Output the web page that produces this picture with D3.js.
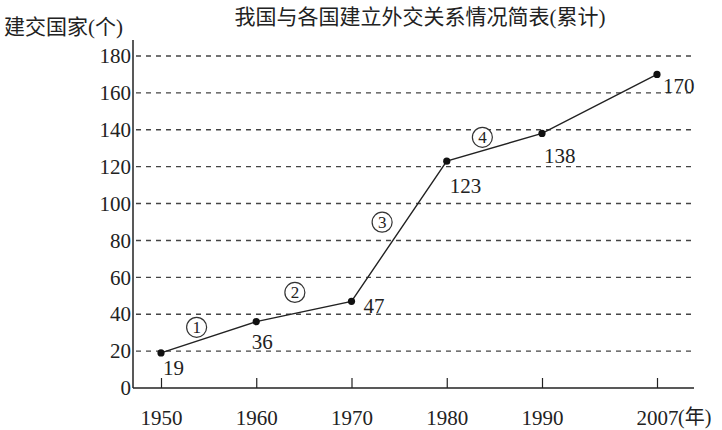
<!DOCTYPE html>
<html>
<head>
<meta charset="utf-8">
<script src="https://cdn.jsdelivr.net/npm/d3@7"></script>
<style>
  body { margin: 0; background: #fff; }
  text { font-family: "Liberation Serif", "Times New Roman", Times, "DejaVu Serif", "Noto Sans CJK SC", serif; fill: #222; }
</style>
</head>
<body>
<div id="chart"></div>
<script>
// data
const years = [1950, 1960, 1970, 1980, 1990, 2007];
const counts = [19, 36, 47, 123, 138, 170];
const yTicks = [0, 20, 40, 60, 80, 100, 120, 140, 160, 180];
const stages = ['1', '2', '3', '4'];
const titleText = '我国与各国建立外交关系情况简表(累计)';
const yTitle = '建交国家(个)';
const xUnit = '(年)';

const width = 722;
const height = 430;

const svg = d3.select('#chart')
    .append('svg')
    .attr('width', width)
    .attr('height', height);

// year axis is not evenly spaced in the original (2007 is squeezed in)
const x = d3.scaleLinear()
    .domain([1950, 1990, 2007])
    .range([161, 542, 657]);

const y = d3.scaleLinear()
    .domain([0, 180])
    .range([388, 56]);

const axisX0 = 133;
const axisRight = 694;

// dashed grid lines
svg.append('g')
    .selectAll('line')
    .data(yTicks.filter(d => d > 0))
    .enter()
    .append('line')
    .attr('x1', axisX0 + 3)
    .attr('x2', axisRight)
    .attr('y1', d => y(d))
    .attr('y2', d => y(d))
    .attr('stroke', '#444')
    .attr('stroke-width', 1.4)
    .attr('stroke-dasharray', '5,5');

// y axis
const yAxis = svg.append('g')
    .attr('transform', `translate(${axisX0},0)`)
    .call(d3.axisLeft(y).tickValues(yTicks).tickSize(0).tickPadding(2));
yAxis.select('.domain').remove();
yAxis.selectAll('text')
    .attr('font-size', 21)
    .attr('fill', '#222');

svg.append('line')
    .attr('x1', axisX0).attr('x2', axisX0)
    .attr('y1', 40).attr('y2', y(0))
    .attr('stroke', '#222')
    .attr('stroke-width', 1.5);

// x axis
const xAxis = svg.append('g')
    .attr('transform', `translate(0,${y(0)})`)
    .call(d3.axisBottom(x).tickValues(years).tickFormat(d3.format('d')).tickSize(-10).tickPadding(22));
xAxis.select('.domain').remove();
xAxis.selectAll('.tick line').attr('stroke', '#222').attr('stroke-width', 1.2);
xAxis.selectAll('text')
    .attr('font-size', 21)
    .attr('fill', '#222');

svg.append('line')
    .attr('x1', axisX0).attr('x2', axisRight)
    .attr('y1', y(0)).attr('y2', y(0))
    .attr('stroke', '#222')
    .attr('stroke-width', 1.5);

// the line
const points = years.map((yr, i) => ({ year: yr, value: counts[i] }));

const lineGen = d3.line()
    .x(d => x(d.year))
    .y(d => y(d.value));

svg.append('path')
    .datum(points)
    .attr('d', lineGen)
    .attr('fill', 'none')
    .attr('stroke', '#222')
    .attr('stroke-width', 1.4);

svg.selectAll('.dot')
    .data(points)
    .enter()
    .append('circle')
    .attr('class', 'dot')
    .attr('cx', d => x(d.year))
    .attr('cy', d => y(d.value))
    .attr('r', 3.6)
    .attr('fill', '#111');

// value labels, offsets picked by eye
const labelOffsets = [[2, 22, 'start'], [6, 27, 'middle'], [12, 12, 'start'], [3, 32, 'start'], [2, 30, 'start'], [6, 19, 'start']];
svg.selectAll('.val')
    .data(points)
    .enter()
    .append('text')
    .attr('class', 'val')
    .attr('x', (d, i) => x(d.year) + labelOffsets[i][0])
    .attr('y', (d, i) => y(d.value) + labelOffsets[i][1])
    .attr('text-anchor', (d, i) => labelOffsets[i][2])
    .attr('font-size', 21)
    .text(d => d.value);

// circled stage numbers near the segment middles
const stageOffsets = [[-12, -10], [-9, -19], [-17, -9], [-12, -10]];
const stageG = svg.selectAll('.stage')
    .data(stages)
    .enter()
    .append('g')
    .attr('class', 'stage')
    .attr('transform', (d, i) => {
        const mx = (x(points[i].year) + x(points[i + 1].year)) / 2 + stageOffsets[i][0];
        const my = (y(points[i].value) + y(points[i + 1].value)) / 2 + stageOffsets[i][1];
        return `translate(${mx},${my})`;
    });
stageG.append('circle')
    .attr('r', 10)
    .attr('fill', '#fff')
    .attr('stroke', '#333')
    .attr('stroke-width', 1.2);
stageG.append('text')
    .attr('text-anchor', 'middle')
    .attr('dy', '0.35em')
    .attr('font-size', 17)
    .text(d => d);

// titles
svg.append('text')
    .attr('x', 420)
    .attr('y', 24)
    .attr('text-anchor', 'middle')
    .attr('font-size', 21)
    .text(titleText);

svg.append('text')
    .attr('x', 4)
    .attr('y', 34)
    .attr('font-size', 21)
    .text(yTitle);

svg.append('text')
    .attr('x', x(2007) + 21)
    .attr('y', y(0) + 36)
    .attr('font-size', 20)
    .text(xUnit);
</script>
</body>
</html>
